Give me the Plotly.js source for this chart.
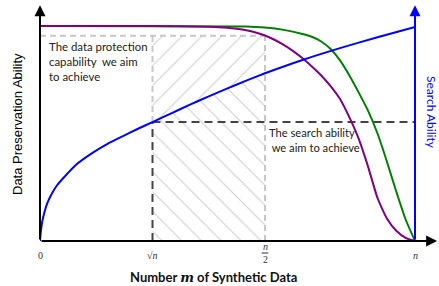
<!DOCTYPE html>
<html>
<head>
<meta charset="utf-8">
<script src="https://cdn.plot.ly/plotly-3.0.1.min.js"></script>
<style>html,body{margin:0;padding:0;background:#fff;}#chart{width:439px;height:286px;}</style>
</head>
<body>
<div id="chart"></div>
<script>
// ---- data (schematic units: x 0..1 = 0..n, y 0..1) ----
const tickPositions = [0, 0.3, 0.6, 1.0];
const tickLabels = ['0', '√<i>n</i>', '<i>n</i><br>2', '<i>n</i>'];

const searchX = [0, 0.002, 0.006, 0.012, 0.02, 0.03, 0.045, 0.066, 0.1, 0.14, 0.18, 0.22, 0.26, 0.3, 0.35, 0.4, 0.45, 0.5, 0.55, 0.6, 0.7, 0.8, 0.9, 1.0];
const searchY = [0, 0.04, 0.09, 0.135, 0.178, 0.215, 0.258, 0.30, 0.36, 0.41, 0.452, 0.487, 0.521, 0.553, 0.594, 0.634, 0.673, 0.71, 0.746, 0.78, 0.842, 0.897, 0.948, 0.995];

const purpleX = [0, 0.3, 0.45, 0.5, 0.525, 0.55, 0.575, 0.6, 0.625, 0.65, 0.675, 0.7, 0.725, 0.75, 0.775, 0.8, 0.825, 0.85, 0.875, 0.9, 0.925, 0.95, 0.975, 1.0];
const purpleY = [1.0, 1.0, 0.997, 0.992, 0.987, 0.98, 0.97, 0.956, 0.936, 0.912, 0.883, 0.85, 0.812, 0.77, 0.72, 0.66, 0.575, 0.475, 0.345, 0.2, 0.105, 0.048, 0.015, 0];

const greenX = [0, 0.55, 0.6, 0.65, 0.7, 0.725, 0.75, 0.775, 0.8, 0.825, 0.85, 0.875, 0.9, 0.925, 0.95, 0.975, 1.0];
const greenY = [1.0, 0.998, 0.993, 0.982, 0.963, 0.95, 0.928, 0.893, 0.84, 0.77, 0.69, 0.605, 0.5, 0.37, 0.23, 0.1, 0];

const protectionLevel = 0.955;   // light grey dashed target line
const sqrtNIndex = 1, halfNIndex = 2, nIndex = 3;

// ---- derived helpers ----
const xs = tickPositions[sqrtNIndex], xh = tickPositions[halfNIndex], xn = tickPositions[nIndex];
const iS = searchX.indexOf(xs), iH = searchX.indexOf(xh);
const segX = searchX.slice(iS, iH + 1), segY = searchY.slice(iS, iH + 1);
const searchAtSqrt = searchY[iS];

const upperX = [xs, xh].concat(segX.slice().reverse());
const upperY = [protectionLevel, protectionLevel].concat(segY.slice().reverse());
const lowerX = [xs, xh].concat(segX.slice().reverse());
const lowerY = [0, 0].concat(segY.slice().reverse());

const hatch = (shape) => ({shape: shape, fgcolor: '#a0a0a0', bgcolor: 'rgba(0,0,0,0)', size: 14, solidity: 0.08, fillmode: 'overlay'});
const curve = (c) => ({color: c, width: 2, shape: 'spline', smoothing: 0.5});

const traces = [
  {x: upperX, y: upperY, mode: 'lines', fill: 'toself', fillcolor: 'rgba(0,0,0,0)', fillpattern: hatch('/'), line: {width: 0}, hoverinfo: 'skip'},
  {x: lowerX, y: lowerY, mode: 'lines', fill: 'toself', fillcolor: 'rgba(0,0,0,0)', fillpattern: hatch('\\'), line: {width: 0}, hoverinfo: 'skip'},
  // light grey dashed box
  {x: [0, xh], y: [protectionLevel, protectionLevel], mode: 'lines', line: {color: '#c8c8c8', width: 2, dash: '6px,4px'}},
  {x: [xs, xs], y: [searchAtSqrt, protectionLevel], mode: 'lines', line: {color: '#c8c8c8', width: 2, dash: '6px,4px'}},
  {x: [xh, xh], y: [0, protectionLevel], mode: 'lines', line: {color: '#c8c8c8', width: 2, dash: '6px,4px'}},
  // dark dashed search target
  {x: [xs, xn], y: [searchAtSqrt, searchAtSqrt], mode: 'lines', line: {color: '#444444', width: 2, dash: '8px,5px'}},
  {x: [xs, xs], y: [0, searchAtSqrt], mode: 'lines', line: {color: '#444444', width: 2, dash: '8px,5px'}},
  // curves
  {x: greenX, y: greenY, mode: 'lines', line: curve('#008000')},
  {x: purpleX, y: purpleY, mode: 'lines', line: curve('#800080')},
  {x: searchX, y: searchY, mode: 'lines', line: curve('#0000ff')}
];

const W = 439, H = 286, ml = 40, mr = 0, mt = 0, mb = 45;
const px2paperY = (py) => (H - mb - py) / (H - mt - mb);
const px2paperX = (px) => (px - ml) / (W - ml - mr);

const annotations = [];
// axis arrows
const arrow = (x, y, ax, ay, c) => ({x: x, y: y, ax: ax, ay: ay, axref: 'x', ayref: 'y', xref: 'x', yref: 'y', text: '', showarrow: true, arrowhead: 2, arrowsize: 1.1, arrowwidth: 2, arrowcolor: c});
annotations.push(arrow(1.059, 0, 0, 0, '#000'));
annotations.push(arrow(0, 1.097, 0, 0, '#000'));
annotations.push(arrow(xn, 1.097, xn, 0, '#0000ff'));
// tick labels
tickPositions.forEach((p, i) => {
  annotations.push({x: p, y: px2paperY(i === halfNIndex ? 253 : 255.5), xref: 'x', yref: 'paper', xanchor: 'center', yanchor: 'middle', text: tickLabels[i], showarrow: false,
    font: {family: 'Liberation Serif, DejaVu Serif, serif', size: 10, color: '#333'}});
});
// texts
annotations.push({x: 0.019, y: protectionLevel, xref: 'x', yref: 'y', xanchor: 'left', yanchor: 'top', yshift: -2, align: 'left', showarrow: false,
  text: 'The data protection<br>capability  we aim<br>to achieve', font: {family: 'Lato, Open Sans, sans-serif', size: 11.4, color: '#222'}});
annotations.push({x: 0.605, y: searchAtSqrt, xref: 'x', yref: 'y', xanchor: 'left', yanchor: 'top', yshift: -2, align: 'left', showarrow: false,
  text: 'The search ability<br> we aim to achieve', font: {family: 'Lato, Open Sans, sans-serif', size: 11.2, color: '#222'}});
annotations.push({x: px2paperX(432), y: px2paperY(112), xref: 'paper', yref: 'paper', xanchor: 'center', yanchor: 'middle', showarrow: false, textangle: 90,
  text: 'Search Ability', font: {family: 'Lato, Open Sans, sans-serif', size: 12, color: '#0000ff'}});
annotations.push({x: px2paperX(18), y: px2paperY(124), xref: 'paper', yref: 'paper', xanchor: 'center', yanchor: 'middle', showarrow: false, textangle: -90,
  text: 'Data Preservation Ability', font: {family: 'Liberation Sans, Arial, sans-serif', size: 13, color: '#000'}});
annotations.push({x: px2paperX(213), y: px2paperY(277), xref: 'paper', yref: 'paper', xanchor: 'center', yanchor: 'middle', showarrow: false,
  text: 'Number <i style="font-family:DejaVu Serif">m</i> of Synthetic Data', font: {family: 'Lato, Open Sans, sans-serif', size: 13, color: '#111', weight: 700}});

// fraction bar of the n/2 tick label
const shapes = [{type: 'line', xref: 'x', yref: 'paper', x0: xh - 0.009, x1: xh + 0.009, y0: px2paperY(253), y1: px2paperY(253), line: {color: '#333', width: 1}}];

const layout = {
  width: W, height: H,
  margin: {l: ml, r: mr, t: mt, b: mb},
  paper_bgcolor: '#fff', plot_bgcolor: '#fff',
  showlegend: false,
  xaxis: {range: [0, 399 / 375], showgrid: false, zeroline: false, showline: false, showticklabels: false, ticks: ''},
  yaxis: {range: [0, 241 / 215], showgrid: false, zeroline: false, showline: false, showticklabels: false, ticks: ''},
  annotations: annotations,
  shapes: shapes
};

Plotly.newPlot('chart', traces, layout, {staticPlot: true, displayModeBar: false});
</script>
</body>
</html>
